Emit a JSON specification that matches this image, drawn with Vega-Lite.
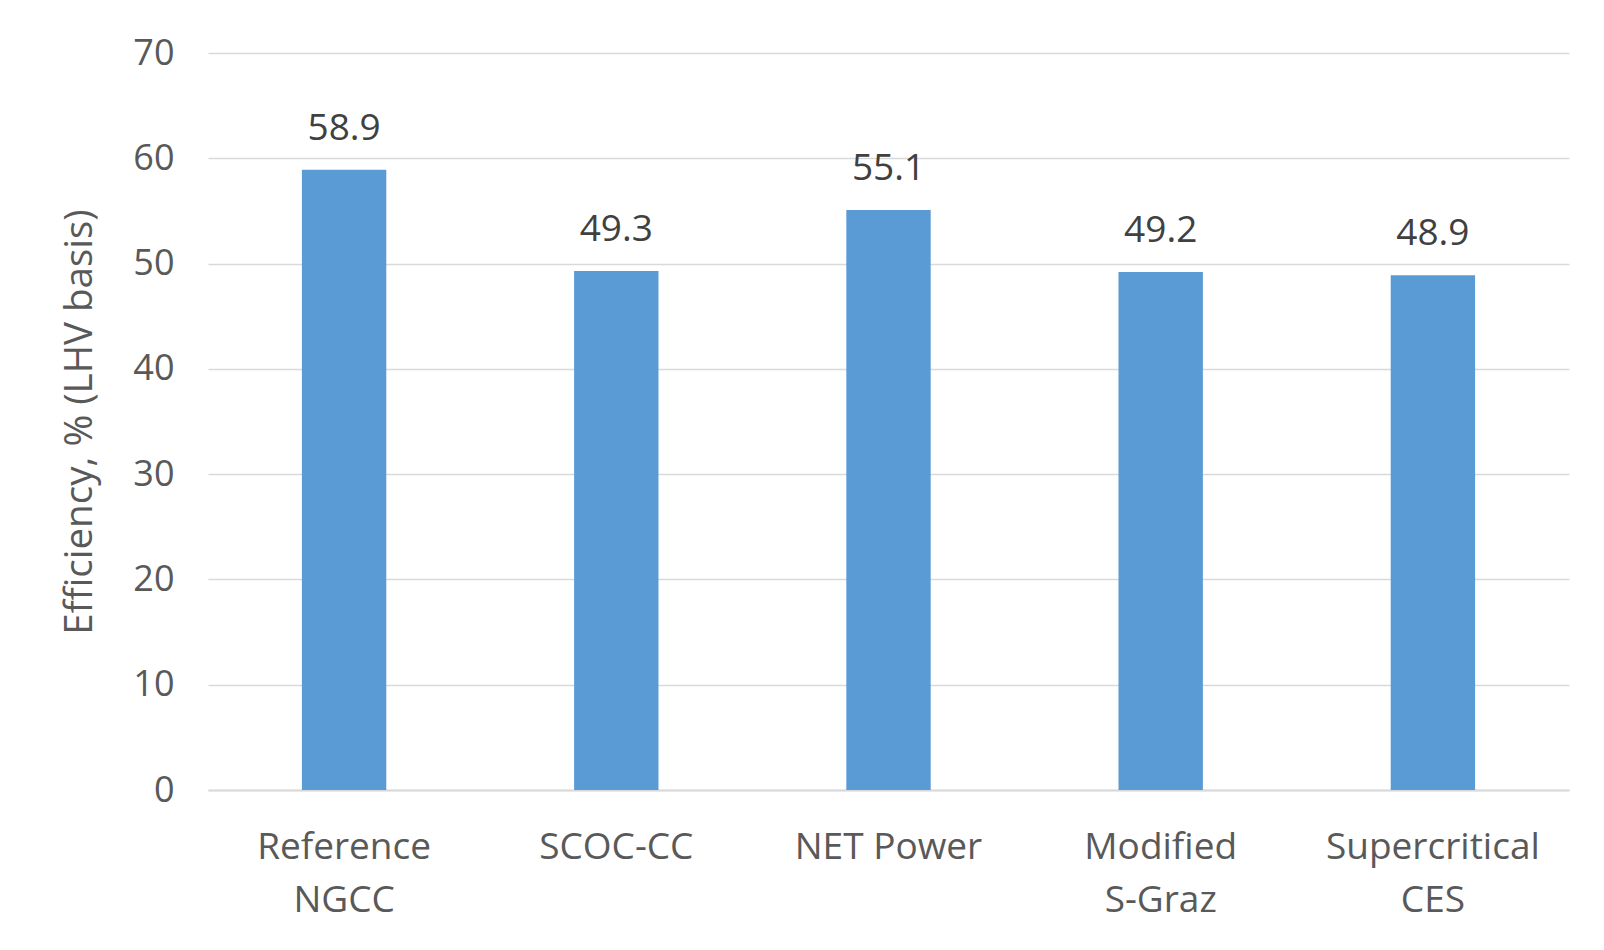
{
  "$schema": "https://vega.github.io/schema/vega-lite/v6.json",
  "autosize": {"type": "none"},
  "padding": {"left": 208, "top": 53, "right": 35, "bottom": 160},
  "width": 1361,
  "height": 737,
  "background": "white",
  "data": {
    "values": [
      {"cycle": "Reference NGCC", "efficiency": 58.9},
      {"cycle": "SCOC-CC", "efficiency": 49.3},
      {"cycle": "NET Power", "efficiency": 55.1},
      {"cycle": "Modified S-Graz", "efficiency": 49.2},
      {"cycle": "Supercritical CES", "efficiency": 48.9}
    ]
  },
  "encoding": {
    "x": {
      "field": "cycle",
      "type": "nominal",
      "sort": null,
      "scale": {"paddingInner": 0.69, "paddingOuter": 0.345},
      "axis": {
        "title": null,
        "labelAngle": 0,
        "labelExpr": "datum.label == 'NET Power' ? datum.label : split(datum.label, ' ')",
        "labelLineHeight": 53,
        "labelPadding": 39,
        "labelLimit": 0,
        "labelFontSize": 37,
        "ticks": false,
        "domain": true,
        "domainColor": "#d9d9d9",
        "domainWidth": 2
      }
    },
    "y": {
      "field": "efficiency",
      "type": "quantitative",
      "scale": {"domain": [0, 70], "nice": false},
      "axis": {
        "title": "Efficiency, % (LHV basis)",
        "values": [0, 10, 20, 30, 40, 50, 60, 70],
        "ticks": false,
        "domain": false,
        "labelPadding": 34,
        "labelFontSize": 36,
        "titlePadding": 33,
        "titleFontSize": 38.5,
        "grid": true,
        "gridColor": "#d9d9d9",
        "gridWidth": 1.5
      }
    }
  },
  "layer": [
    {"mark": {"type": "bar", "color": "#5b9bd5"}},
    {
      "mark": {"type": "text", "baseline": "bottom", "dy": -22, "fontSize": 37, "font": "Open Sans", "color": "#404040"},
      "encoding": {"text": {"field": "efficiency", "type": "quantitative", "format": ".1f"}}
    }
  ],
  "config": {
    "view": {"stroke": null},
    "axis": {
      "labelFont": "Open Sans",
      "labelColor": "#595959",
      "titleFont": "Open Sans",
      "titleFontWeight": "normal",
      "titleColor": "#595959"
    }
  }
}
